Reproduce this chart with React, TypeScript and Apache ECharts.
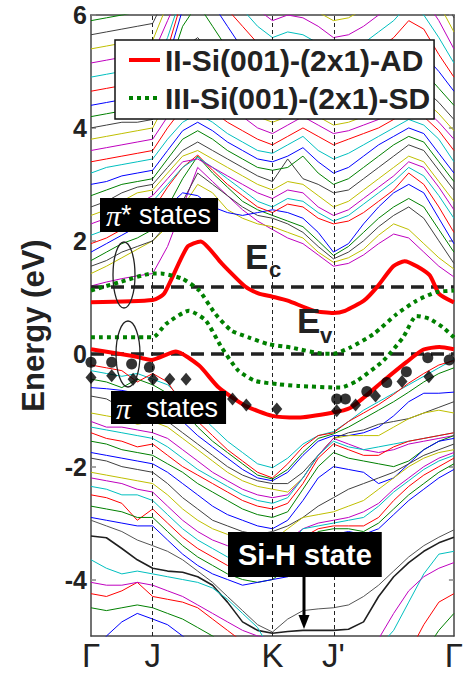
import React, { useEffect, useRef } from "react";
import * as echarts from "echarts";

// ---------- k-path (fraction of path length) ----------
const kPath = [0, 0.0425, 0.085, 0.1275, 0.17, 0.211, 0.2525, 0.294, 0.335, 0.376, 0.4175, 0.459, 0.5, 0.542, 0.584, 0.626, 0.668, 0.7095, 0.751, 0.7925, 0.834, 0.8755, 0.917, 0.9585, 1.0];
const kTickValues = [0, 0.17, 0.5, 0.668, 1];
const kTickLabels = ["Γ", "J", "K", "J'", "Γ"];
const energyTicks = [-4, -2, 0, 2, 4, 6];
const valenceEdge = 0; // E_v
const conductionEdge = 1.18; // E_c

// ---------- II-Si(001)-(2x1)-AD (red) ----------
const adUpperK = [0, 0.17, 0.202, 0.265, 0.302, 0.36, 0.425, 0.461, 0.5, 0.542, 0.615, 0.668, 0.7, 0.752, 0.788, 0.833, 0.864, 0.932, 0.959, 1];
const adUpperE = [0.91, 0.95, 1.07, 1.89, 1.99, 1.6, 1.19, 1.07, 1.01, 0.94, 0.76, 0.72, 0.76, 0.94, 1.18, 1.55, 1.64, 1.4, 1.06, 0.91];
const adLowerK = [0, 0.115, 0.166, 0.234, 0.298, 0.352, 0.425, 0.5, 0.57, 0.668, 0.714, 0.751, 0.806, 0.869, 0.915, 0.96, 1];
const adLowerE = [0.08, -0.04, -0.11, 0.04, -0.21, -0.6, -0.92, -1.1, -1.13, -1.04, -0.96, -0.78, -0.48, -0.15, 0.07, 0.12, 0.08];

// ---------- III-Si(001)-(2x1)-SD (green dotted) ----------
const sdUpperK = [0, 0.08, 0.17, 0.193, 0.251, 0.298, 0.343, 0.387, 0.434, 0.488, 0.551, 0.643, 0.668, 0.714, 0.779, 0.842, 0.897, 0.951, 1];
const sdUpperE = [1.12, 1.27, 1.42, 1.42, 1.33, 1.12, 0.7, 0.41, 0.29, 0.17, 0.11, 0.0, 0.0, 0.11, 0.35, 0.7, 0.94, 1.09, 1.12];
const sdLowerK = [0, 0.17, 0.207, 0.27, 0.316, 0.36, 0.406, 0.452, 0.515, 0.57, 0.687, 0.733, 0.806, 0.86, 0.897, 0.932, 0.969, 1];
const sdLowerE = [0.29, 0.29, 0.53, 0.76, 0.59, 0.11, -0.3, -0.48, -0.54, -0.57, -0.6, -0.48, -0.12, 0.29, 0.67, 0.62, 0.47, 0.29];

// ---------- experimental points ----------
const circK = [0, 0.057, 0.112, 0.161, 0.677, 0.701, 0.76, 0.815, 0.869, 0.928, 0.987];
const circE = [-0.15, -0.15, -0.18, -0.24, -0.8, -0.8, -0.67, -0.51, -0.32, -0.07, -0.11];
const diaK = [0, 0.057, 0.116, 0.171, 0.217, 0.262, 0.39, 0.428, 0.512, 0.677, 0.729, 0.784, 0.857, 0.931];
const diaE = [-0.42, -0.39, -0.45, -0.45, -0.45, -0.45, -0.8, -0.91, -0.98, -1.01, -0.91, -0.75, -0.49, -0.41];

// ---------- bulk-projected thin bands ----------
const valenceBands = [
  [-0.3, -0.35, -0.4, -0.35, -0.45, -0.55, -0.8, -1.05, -1.3, -1.55, -1.75, -1.95, -2.02, -1.85, -1.6, -1.45, -1.38, -1.2, -1.0, -0.85, -0.7, -0.55, -0.4, -0.25, -0.1],
  [-0.2, -0.25, -0.3, -0.5, -0.35, -0.5, -0.9, -1.2, -1.45, -1.7, -1.9, -2.1, -2.2, -1.95, -1.65, -1.45, -1.4, -1.2, -1.05, -0.9, -0.72, -0.52, -0.35, -0.2, -0.12],
  [-0.45, -0.5, -0.6, -0.45, -0.55, -0.7, -1.0, -1.3, -1.55, -1.75, -1.95, -2.15, -2.22, -2.05, -1.75, -1.5, -1.42, -1.3, -1.15, -1.0, -0.85, -0.68, -0.5, -0.35, -0.25],
  [-0.6, -0.62, -0.65, -0.7, -0.75, -0.95, -1.2, -1.45, -1.65, -1.85, -2.05, -2.2, -2.25, -2.1, -1.8, -1.55, -1.45, -1.45, -1.4, -1.3, -1.1, -0.85, -0.7, -0.7, -0.68],
  [-0.75, -0.8, -0.95, -1.0, -1.05, -1.2, -1.4, -1.6, -1.8, -2.0, -2.15, -2.25, -2.3, -2.3, -2.1, -1.8, -1.5, -1.4, -1.35, -1.25, -1.2, -1.15, -1.05, -0.95, -0.85],
  [-1.05, -1.1, -1.15, -1.25, -1.2, -1.3, -1.5, -1.7, -1.9, -2.1, -2.25, -2.35, -2.4, -2.45, -2.2, -1.8, -1.5, -1.45, -1.45, -1.45, -1.3, -1.15, -1.05, -1.0, -1.05],
  [-1.2, -1.3, -1.3, -1.35, -1.4, -1.5, -1.7, -1.9, -2.1, -2.25, -2.4, -2.5, -2.55, -2.5, -2.2, -1.8, -1.5, -1.6, -1.7, -1.75, -1.7, -1.6, -1.55, -1.5, -1.45],
  [-1.3, -1.35, -1.4, -1.45, -1.5, -1.65, -1.85, -2.05, -2.2, -2.35, -2.5, -2.6, -2.65, -2.55, -2.2, -1.8, -1.55, -1.65, -1.7, -1.65, -1.6, -1.55, -1.5, -1.45, -1.4],
  [-1.4, -1.5, -1.55, -1.65, -1.6, -1.8, -2.0, -2.15, -2.3, -2.45, -2.6, -2.7, -2.75, -2.65, -2.3, -1.85, -1.6, -1.7, -1.8, -1.8, -1.65, -1.55, -1.5, -1.45, -1.4],
  [-1.55, -1.6, -1.7, -1.75, -1.8, -1.95, -2.1, -2.3, -2.45, -2.6, -2.75, -2.85, -2.9, -2.8, -2.4, -2.0, -1.75, -1.85, -1.9, -1.95, -2.0, -1.9, -1.7, -1.55, -1.45],
  [-1.75, -1.8, -1.85, -1.9, -1.95, -2.1, -2.3, -2.5, -2.7, -2.85, -2.95, -3.05, -3.1, -2.95, -2.6, -2.2, -2.0, -2.05, -2.1, -2.3, -2.2, -1.95, -1.7, -1.55, -1.5],
  [-1.85, -1.9, -2.0, -2.05, -2.1, -2.3, -2.55, -2.75, -2.95, -3.05, -3.15, -3.2, -3.15, -3.05, -2.9, -2.7, -2.55, -2.4, -2.3, -2.2, -2.1, -1.95, -1.8, -1.7, -1.6],
  [-2.1, -2.15, -2.2, -2.25, -2.3, -2.5, -2.75, -2.95, -3.1, -3.2, -3.3, -3.35, -3.3, -3.1, -2.9, -2.85, -2.8, -2.7, -2.6, -2.4, -2.2, -2.0, -1.85, -1.75, -1.7],
  [-2.2, -2.25, -2.3, -2.4, -2.45, -2.7, -2.95, -3.15, -3.3, -3.4, -3.5, -3.55, -3.5, -3.3, -3.1, -3.0, -2.95, -2.9, -2.8, -2.65, -2.4, -2.2, -2.0, -1.85, -1.75],
  [-2.35, -2.4, -2.5, -2.5, -2.6, -2.85, -3.1, -3.3, -3.45, -3.6, -3.7, -3.75, -3.7, -3.4, -3.1, -3.05, -3.0, -2.95, -2.9, -2.7, -2.45, -2.25, -2.05, -1.9, -1.8],
  [-2.5, -2.55, -2.65, -2.95, -2.75, -3.0, -3.25, -3.45, -3.6, -3.75, -3.85, -3.9, -3.85, -3.6, -3.25, -3.1, -3.05, -3.05, -3.05, -2.9, -2.6, -2.35, -2.15, -2.0, -1.85],
  [-2.7, -2.75, -2.8, -2.9, -2.9, -3.15, -3.4, -3.6, -3.75, -3.9, -4.0, -4.05, -4.0, -3.8, -3.4, -3.15, -3.1, -3.1, -3.15, -3.0, -2.75, -2.5, -2.3, -2.1, -1.95],
  [-2.9, -2.95, -3.0, -3.05, -3.05, -3.3, -3.55, -3.75, -3.9, -4.0, -4.1, -4.05, -4.0, -3.95, -3.7, -3.4, -3.2, -3.15, -3.2, -3.1, -2.85, -2.6, -2.4, -2.2, -2.05],
  [-3.23, -3.26, -3.45, -3.65, -3.8, -3.85, -3.87, -3.95, -4.1, -4.4, -4.75, -4.9, -4.95, -4.92, -4.9, -4.9, -4.9, -4.88, -4.75, -4.3, -3.95, -3.7, -3.5, -3.35, -3.25],
  [-2.95, -3.05, -3.15, -3.3, -3.4, -3.5, -3.65, -3.85, -4.05, -4.3, -4.55, -4.8, -4.93, -4.7, -4.55, -4.52, -4.5, -4.45, -4.3, -4.1, -3.85, -3.6, -3.4, -3.25, -3.12],
  [-3.65, -3.8, -3.9, -3.85, -3.9, -3.95, -4.0, -4.05, -4.15, -4.35, -4.6, -4.85, -5.3, -5.5, -5.6, -5.6, -5.6, -5.6, -5.5, -5.2, -4.9, -4.4, -3.9, -3.55, -3.5],
  [-4.25, -4.3, -4.2, -4.05, -4.3, -4.35, -4.4, -4.5, -4.7, -4.9, -5.1, -5.3, -5.5, -5.6, -5.6, -5.6, -5.6, -5.6, -5.6, -5.6, -5.6, -5.3, -4.8, -4.4, -4.25],
  [-4.5, -4.55, -4.5, -4.45, -4.5, -4.6, -4.7, -4.85, -5.0, -5.2, -5.4, -5.6, -5.6, -5.6, -5.6, -5.6, -5.6, -5.6, -5.6, -5.6, -5.6, -5.6, -5.3, -4.9, -4.6],
  [-5.4, -5.0, -4.75, -4.6, -4.7, -4.8, -5.0, -5.2, -5.4, -5.6, -5.6, -5.6, -5.6, -5.6, -5.6, -5.6, -5.6, -5.6, -5.6, -5.6, -5.6, -5.6, -5.6, -5.6, -5.6],
  [-4.05, -4.1, -4.1, -4.05, -4.1, -4.2, -4.3, -4.45, -4.6, -4.75, -4.9, -5.0, -5.05, -5.3, -5.5, -5.6, -5.6, -5.6, -5.5, -5.05, -4.6, -4.2, -3.95, -3.8, -3.7],
];
const valenceColors = ["#00bfbf", "#ff0000", "#008000", "#0000ff", "#404040", "#bfbf00", "#bf00bf", "#00bfbf", "#ff0000", "#008000", "#0000ff", "#404040", "#bfbf00", "#bf00bf", "#00bfbf", "#ff0000", "#008000", "#0000ff", "#202020", "#555555", "#00bfbf", "#ff0000", "#008000", "#0000ff", "#bf00bf"];

const conductionBands = [
  [1.2, 1.27, 1.33, 1.38, 1.42, 1.9, 2.6, 3.3, 3.05, 2.8, 2.55, 2.35, 2.2, 2.05, 1.95, 1.75, 1.55, 1.6, 1.75, 1.95, 2.12, 2.05, 1.8, 1.55, 1.36],
  [1.42, 1.55, 1.7, 1.85, 2.0, 2.25, 2.6, 3.0, 2.85, 2.55, 2.4, 2.3, 2.25, 2.15, 2.05, 1.8, 1.62, 1.7, 1.85, 2.1, 2.3, 2.2, 1.95, 1.7, 1.5],
  [1.55, 1.65, 1.8, 1.9, 2.0, 2.3, 2.7, 3.2, 3.0, 2.8, 2.6, 2.45, 2.4, 2.3, 2.15, 1.9, 1.68, 1.8, 2.0, 2.25, 2.45, 2.6, 2.4, 2.0, 1.6],
  [1.65, 1.8, 1.95, 2.05, 2.2, 2.6, 3.1, 3.5, 3.2, 2.95, 2.7, 2.55, 2.45, 2.35, 2.25, 2.0, 1.74, 1.9, 2.15, 2.4, 2.6, 2.75, 2.6, 2.2, 1.8],
  [1.8, 1.95, 2.1, 2.25, 2.4, 2.6, 2.85, 2.8, 2.6, 2.5, 2.45, 2.5, 2.55, 2.5, 2.4, 2.15, 1.8, 1.95, 2.3, 2.6, 2.85, 3.0, 2.85, 2.4, 1.95],
  [1.95, 2.05, 2.2, 2.4, 2.55, 2.95, 3.3, 3.52, 3.25, 3.0, 2.8, 2.6, 2.5, 2.65, 2.6, 2.4, 2.3, 2.35, 2.5, 2.7, 2.9, 3.2, 3.0, 2.6, 2.15],
  [2.1, 2.2, 2.35, 2.5, 2.7, 3.0, 3.3, 3.48, 3.3, 3.1, 2.9, 2.7, 2.6, 2.75, 2.7, 2.5, 2.35, 2.45, 2.65, 2.85, 3.05, 3.3, 3.15, 2.8, 2.4],
  [2.3, 2.4, 2.5, 2.65, 2.8, 3.1, 3.4, 3.45, 3.3, 3.15, 3.0, 2.85, 2.75, 2.9, 2.85, 2.6, 2.45, 2.55, 2.75, 2.95, 3.15, 3.4, 3.3, 2.95, 2.55],
  [2.45, 2.55, 2.7, 2.85, 2.9, 3.2, 3.5, 3.6, 3.45, 3.3, 3.15, 3.0, 2.9, 3.05, 3.0, 2.8, 2.6, 2.7, 2.9, 3.1, 3.3, 3.5, 3.4, 3.05, 2.7],
  [2.6, 2.7, 2.85, 2.95, 3.0, 3.3, 3.6, 3.75, 3.6, 3.45, 3.3, 3.15, 3.05, 3.45, 3.1, 3.0, 2.85, 2.9, 3.1, 3.3, 3.5, 3.7, 3.6, 3.25, 2.9],
  [2.8, 2.9, 3.0, 3.05, 3.1, 3.45, 3.8, 3.95, 3.8, 3.6, 3.45, 3.3, 3.25, 3.3, 3.5, 3.2, 3.0, 3.1, 3.3, 3.5, 3.7, 3.85, 3.75, 3.4, 3.05],
  [3.0, 3.05, 3.15, 3.2, 3.25, 3.6, 3.95, 4.1, 3.95, 3.75, 3.6, 3.45, 3.4, 3.5, 3.65, 3.4, 3.2, 3.3, 3.5, 3.7, 3.85, 4.0, 3.9, 3.55, 3.2],
  [3.2, 3.3, 3.35, 3.4, 3.45, 3.8, 4.1, 4.25, 4.1, 3.9, 3.75, 3.6, 3.55, 3.7, 3.85, 3.6, 3.45, 3.55, 3.7, 3.85, 4.0, 4.15, 4.05, 3.8, 3.4],
  [3.4, 3.45, 3.5, 3.55, 3.6, 4.0, 4.35, 4.5, 4.3, 4.1, 3.95, 3.8, 3.7, 3.85, 4.0, 3.85, 3.7, 3.8, 3.9, 4.0, 4.15, 4.35, 4.2, 3.95, 3.6],
  [3.6, 3.65, 3.7, 3.75, 3.8, 4.2, 4.6, 4.75, 4.6, 4.4, 4.2, 4.0, 3.9, 4.05, 4.2, 4.05, 3.9, 3.95, 4.05, 4.15, 4.3, 4.5, 4.35, 4.1, 3.8],
  [3.8, 3.85, 3.9, 3.95, 4.0, 4.5, 5.0, 5.2, 4.9, 4.6, 4.4, 4.2, 4.1, 4.2, 4.35, 4.2, 4.05, 4.1, 4.2, 4.3, 4.45, 4.65, 4.5, 4.25, 3.95],
  [4.0, 4.05, 4.1, 4.1, 4.15, 4.8, 5.4, 5.6, 5.3, 5.0, 4.7, 4.5, 4.35, 4.5, 4.55, 4.4, 4.25, 4.3, 4.4, 4.5, 4.6, 4.8, 4.7, 4.45, 4.15],
  [4.2, 4.25, 4.3, 4.35, 4.4, 5.0, 5.8, 6.2, 5.8, 5.4, 5.0, 4.75, 4.6, 4.8, 4.9, 4.7, 4.5, 4.55, 4.65, 4.8, 4.95, 5.1, 5.0, 4.7, 4.4],
  [4.4, 4.45, 4.5, 4.55, 4.6, 5.2, 6.1, 6.5, 6.2, 5.8, 5.4, 5.1, 4.9, 5.0, 5.1, 4.9, 4.75, 4.8, 4.9, 5.05, 5.2, 5.4, 5.3, 5.0, 4.65],
  [4.65, 4.7, 4.75, 4.75, 4.8, 5.4, 6.3, 6.6, 6.4, 6.1, 5.8, 5.5, 5.3, 5.4, 5.4, 5.2, 5.0, 5.05, 5.2, 5.4, 5.6, 5.9, 5.75, 5.3, 4.9],
  [4.9, 4.95, 5.0, 5.0, 5.05, 5.6, 6.4, 6.7, 6.6, 6.4, 6.1, 5.8, 5.6, 5.7, 5.65, 5.5, 5.3, 5.35, 5.5, 5.7, 5.9, 6.2, 6.0, 5.6, 5.15],
  [5.15, 5.2, 5.25, 5.25, 5.3, 5.9, 6.5, 6.8, 6.8, 6.6, 6.3, 6.1, 5.9, 6.0, 5.95, 5.8, 5.6, 5.65, 5.8, 6.0, 6.2, 6.4, 6.3, 5.9, 5.4],
  [5.4, 5.45, 5.5, 5.5, 5.55, 6.2, 6.7, 6.9, 6.9, 6.8, 6.5, 6.3, 6.1, 6.3, 6.2, 6.05, 5.9, 5.95, 6.1, 6.3, 6.5, 6.7, 6.6, 6.2, 5.7],
  [5.65, 5.7, 5.75, 5.8, 5.85, 6.4, 6.9, 7.0, 7.0, 7.0, 6.8, 6.5, 6.35, 6.5, 6.45, 6.3, 6.1, 6.2, 6.35, 6.55, 6.8, 7.0, 6.9, 6.5, 5.95],
  [5.9, 5.95, 6.0, 6.05, 6.1, 6.6, 7.0, 7.0, 7.0, 7.0, 7.0, 6.8, 6.6, 6.7, 6.7, 6.55, 6.4, 6.45, 6.6, 6.8, 7.0, 7.0, 7.0, 6.8, 6.2],
];
const conductionColors = ["#bf00bf", "#bfbf00", "#404040", "#008000", "#0000ff", "#ff0000", "#00bfbf", "#bf00bf", "#bfbf00", "#404040", "#008000", "#0000ff", "#00bfbf", "#ff0000", "#bf00bf", "#bfbf00", "#404040", "#008000", "#0000ff", "#ff0000", "#00bfbf", "#bf00bf", "#bfbf00", "#404040", "#008000"];

const AD_NAME = "II-Si(001)-(2x1)-AD";
const SD_NAME = "III-Si(001)-(2x1)-SD";
const FONT = "'Liberation Sans', Arial, Helvetica, sans-serif";
const SERIF = "'Liberation Serif', 'Times New Roman', serif";

const zip = (xs: number[], ys: number[]) => xs.map((x, i) => [x, ys[i]]);

function buildOption() {
  const thinSeries: any[] = [];
  valenceBands.forEach((b, i) => {
    thinSeries.push({
      type: "line",
      data: zip(kPath, b),
      symbol: "none",
      silent: true,
      z: 2,
      lineStyle: { color: valenceColors[i], width: i === 18 ? 1.6 : 1 },
    });
  });
  conductionBands.forEach((b, i) => {
    thinSeries.push({
      type: "line",
      data: zip(kPath, b),
      symbol: "none",
      silent: true,
      z: 2,
      lineStyle: { color: conductionColors[i], width: 1 },
    });
  });

  const redStyle = { color: "#ff0000", width: 4 };
  const greenStyle = { color: "#008000", width: 4, type: [4, 4] as any };
  const hiddenSymbol = { opacity: 0, borderWidth: 0 };

  return {
    animation: false,
    grid: { left: 91, top: 15, width: 367, height: 621, containLabel: false },
    legend: {
      left: 115,
      top: 40,
      orient: "vertical",
      selectedMode: false,
      z: 20,
      backgroundColor: "#ffffff",
      borderColor: "#111",
      borderWidth: 1.5,
      borderRadius: 0,
      padding: [5, 4, 6, 12],
      itemWidth: 31,
      itemHeight: 14,
      itemGap: 8,
      textStyle: { fontSize: 30, fontWeight: "bold", fontFamily: FONT, color: "#222", lineHeight: 30 },
      data: [
        { name: AD_NAME, lineStyle: redStyle, itemStyle: hiddenSymbol },
        { name: SD_NAME, lineStyle: greenStyle, itemStyle: hiddenSymbol },
      ],
    },
    xAxis: [
      {
        type: "value",
        min: 0,
        max: 1,
        position: "bottom",
        axisLine: { show: true, onZero: false, lineStyle: { color: "#444", width: 1.5 } },
        axisTick: { show: false },
        splitLine: { show: false },
        axisLabel: {
          customValues: kTickValues,
          formatter: (v: number) => {
            const i = kTickValues.findIndex((t) => Math.abs(t - v) < 1e-6);
            return i >= 0 ? kTickLabels[i] : "";
          },
          fontSize: 33,
          fontFamily: FONT,
          color: "#222",
          margin: 3,
        },
      },
      {
        type: "value",
        min: 0,
        max: 1,
        position: "top",
        axisLine: { show: true, onZero: false, lineStyle: { color: "#444", width: 1.5 } },
        axisTick: { show: false },
        axisLabel: { show: false },
        splitLine: { show: false },
      },
    ],
    yAxis: [
      {
        type: "value",
        min: -5,
        max: 6,
        position: "left",
        axisLine: { show: true, onZero: false, lineStyle: { color: "#444", width: 1.5 } },
        axisTick: { show: true, inside: true, length: 5, customValues: energyTicks, lineStyle: { color: "#888", width: 1.5 } },
        axisLabel: { customValues: energyTicks, fontSize: 25, fontWeight: "bold", fontFamily: FONT, color: "#222", margin: 4 },
        splitLine: { show: false },
        name: "Energy (eV)",
        nameLocation: "middle",
        nameGap: 42,
        nameRotate: 90,
        nameTextStyle: { fontSize: 31, fontWeight: "bold", fontFamily: FONT, color: "#222" },
      },
      {
        type: "value",
        min: -5,
        max: 6,
        position: "right",
        axisLine: { show: true, onZero: false, lineStyle: { color: "#444", width: 1.5 } },
        axisTick: { show: true, inside: true, length: 5, customValues: energyTicks, lineStyle: { color: "#888", width: 1.5 } },
        axisLabel: { show: false },
        splitLine: { show: false },
      },
    ],
    series: [
      {
        type: "line",
        data: [],
        z: 1,
        silent: true,
        markLine: {
          symbol: ["none", "none"],
          silent: true,
          label: { show: false },
          lineStyle: { color: "#222", width: 1, type: [4, 3] },
          data: kTickValues.slice(1, 4).map((v) => ({ xAxis: v })),
        },
      },
      ...thinSeries,
      {
        type: "line",
        data: [],
        z: 5,
        silent: true,
        markLine: {
          symbol: ["none", "none"],
          silent: true,
          label: { show: false },
          lineStyle: { color: "#222", width: 3.5, type: [13, 7] },
          data: [{ yAxis: conductionEdge }, { yAxis: valenceEdge }],
        },
      },
      { name: AD_NAME, type: "line", data: zip(adUpperK, adUpperE), symbol: "none", smooth: 0.2, z: 6, lineStyle: redStyle, itemStyle: { color: "#ff0000" } },
      { name: AD_NAME, type: "line", data: zip(adLowerK, adLowerE), symbol: "none", smooth: 0.2, z: 6, lineStyle: redStyle, itemStyle: { color: "#ff0000" } },
      { name: SD_NAME, type: "line", data: zip(sdUpperK, sdUpperE), symbol: "none", smooth: 0.2, z: 6, lineStyle: greenStyle, itemStyle: { color: "#008000" } },
      { name: SD_NAME, type: "line", data: zip(sdLowerK, sdLowerE), symbol: "none", smooth: 0.2, z: 6, lineStyle: greenStyle, itemStyle: { color: "#008000" } },
      { type: "scatter", data: zip(circK, circE), symbol: "circle", symbolSize: 11, z: 7, itemStyle: { color: "#000" }, silent: true },
      { type: "scatter", data: zip(diaK, diaE), symbol: "diamond", symbolSize: [11, 13], z: 7, itemStyle: { color: "#000" }, silent: true },
    ],
    graphic: [
      { type: "ellipse", z: 50, shape: { cx: 124, cy: 275, rx: 11, ry: 33 }, style: { fill: "none", stroke: "#222", lineWidth: 1.3 } },
      { type: "ellipse", z: 50, shape: { cx: 128, cy: 354, rx: 12, ry: 33 }, style: { fill: "none", stroke: "#222", lineWidth: 1.3 } },
      {
        type: "text",
        z: 60,
        x: 100,
        y: 198,
        style: {
          text: "{pi|π}{st|* states}",
          backgroundColor: "#000",
          padding: [3, 7, 3, 6],
          align: "left",
          verticalAlign: "top",
          rich: {
            pi: { fill: "#fff", fontSize: 30, fontStyle: "italic", fontFamily: SERIF, lineHeight: 28 },
            st: { fill: "#fff", fontSize: 27, fontFamily: FONT, lineHeight: 28 },
          },
        },
      },
      {
        type: "text",
        z: 60,
        x: 111,
        y: 391,
        style: {
          text: "{pi|π}{st|  states}",
          backgroundColor: "#000",
          padding: [3, 8, 2, 5],
          align: "left",
          verticalAlign: "top",
          rich: {
            pi: { fill: "#fff", fontSize: 30, fontStyle: "italic", fontFamily: SERIF, lineHeight: 28 },
            st: { fill: "#fff", fontSize: 27, fontFamily: FONT, lineHeight: 28 },
          },
        },
      },
      {
        type: "text",
        z: 60,
        x: 228,
        y: 532,
        style: {
          text: "Si-H state",
          backgroundColor: "#000",
          padding: [7, 10, 7, 10],
          align: "left",
          verticalAlign: "top",
          fill: "#fff",
          fontSize: 29,
          fontWeight: "bold",
          fontFamily: FONT,
          lineHeight: 31,
        },
      },
      { type: "line", z: 60, shape: { x1: 304, y1: 577, x2: 304, y2: 619 }, style: { stroke: "#000", lineWidth: 3 } },
      { type: "polygon", z: 60, shape: { points: [[298.5, 615], [309.5, 615], [304, 629]] }, style: { fill: "#000" } },
      { type: "text", z: 60, x: 245, y: 256, style: { text: "E", fill: "#222", fontSize: 35, fontWeight: "bold", fontFamily: FONT, verticalAlign: "middle" } },
      { type: "text", z: 60, x: 269, y: 269, style: { text: "c", fill: "#222", fontSize: 22, fontWeight: "bold", fontFamily: FONT, verticalAlign: "middle" } },
      { type: "text", z: 60, x: 297, y: 320, style: { text: "E", fill: "#222", fontSize: 35, fontWeight: "bold", fontFamily: FONT, verticalAlign: "middle" } },
      { type: "text", z: 60, x: 320, y: 335, style: { text: "v", fill: "#222", fontSize: 22, fontWeight: "bold", fontFamily: FONT, verticalAlign: "middle" } },
    ],
  };
}

export default function App() {
  const ref = useRef<HTMLDivElement>(null);
  useEffect(() => {
    if (!ref.current) return;
    const chart = echarts.init(ref.current, undefined, { renderer: "svg" });
    chart.setOption(buildOption() as any);
    return () => chart.dispose();
  }, []);
  return <div ref={ref} style={{ position: "absolute", left: 0, top: 0, width: 466, height: 675, background: "#fff" }} />;
}
